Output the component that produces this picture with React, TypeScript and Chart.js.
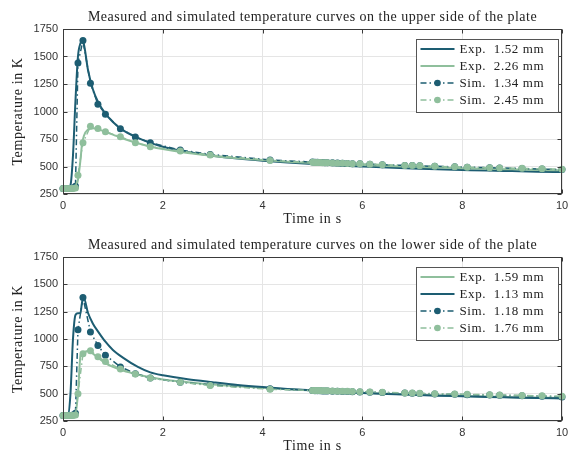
import React, { useEffect, useRef } from "react";
import { Chart, registerables } from "chart.js";

Chart.register(...registerables);

const DARK = "#1d5d72";
const LIGHT = "#8fbf9c";

// Tick values
const xTicks = [0, 2, 4, 6, 8, 10];
const yTicks = [250, 500, 750, 1000, 1250, 1500, 1750];

// Time base for measured curves (s)
const tExp = [0, 0.1, 0.15, 0.2, 0.25, 0.3, 0.35, 0.38, 0.42, 0.5, 0.6, 0.7, 0.85, 1.0, 1.2, 1.5, 1.75, 2.0, 2.5, 3.0, 3.5, 4.0, 4.5, 5.0, 5.5, 6.0, 6.5, 7.0, 7.5, 8.0, 8.5, 9.0, 9.5, 10.0];
// Time base for simulated curves (s)
const tSim = [0, 0.05, 0.1, 0.15, 0.2, 0.25, 0.3, 0.4, 0.55, 0.7, 0.85, 1.15, 1.45, 1.75, 2.35, 2.95, 4.15, 5.0, 5.05, 5.1, 5.15, 5.2, 5.25, 5.3, 5.4, 5.5, 5.6, 5.7, 5.8, 5.95, 6.15, 6.4, 6.85, 7.0, 7.15, 7.45, 7.85, 8.1, 8.55, 8.75, 9.2, 9.6, 10.0];

// Upper side
const upExp152 = [300, 305, 330, 600, 1100, 1500, 1620, 1640, 1610, 1380, 1200, 1090, 980, 905, 830, 760, 715, 680, 632, 598, 572, 552, 536, 522, 510, 500, 490, 482, 475, 469, 463, 458, 453, 449];
const upExp226 = [295, 295, 297, 300, 310, 380, 560, 700, 780, 835, 848, 840, 815, 790, 755, 712, 682, 658, 622, 596, 575, 558, 544, 532, 522, 513, 505, 498, 491, 485, 479, 474, 469, 465];
const upSim134 = [300, 300, 300, 300, 305, 320, 1440, 1645, 1256, 1066, 975, 843, 768, 716, 650, 610, 560, 540, 539, 538, 537, 536, 535, 534, 533, 531, 529, 528, 526, 524, 521, 517, 510, 508, 506, 502, 497, 494, 489, 487, 482, 477, 472];
const upSim245 = [300, 300, 300, 300, 300, 305, 420, 715, 865, 845, 815, 770, 716, 680, 640, 605, 555, 538, 537, 536, 536, 535, 534, 533, 532, 530, 529, 527, 526, 524, 521, 517, 510, 508, 506, 502, 497, 494, 489, 487, 483, 479, 475];

// Lower side
const loExp159 = [295, 295, 297, 300, 320, 500, 850, 870, 880, 890, 865, 830, 780, 745, 712, 675, 650, 630, 605, 583, 567, 553, 540, 528, 518, 508, 500, 492, 485, 479, 473, 468, 464, 460];
const loExp113 = [300, 305, 500, 1000, 1220, 1235, 1240, 1330, 1370, 1240, 1140, 1070, 975, 900, 830, 745, 695, 668, 632, 605, 580, 560, 543, 530, 518, 507, 497, 489, 482, 476, 470, 465, 460, 456];
const loSim118 = [300, 300, 300, 300, 305, 320, 1085, 1380, 1065, 940, 852, 745, 683, 643, 605, 580, 545, 528, 527, 527, 526, 525, 525, 524, 523, 521, 520, 519, 518, 516, 514, 511, 505, 503, 501, 498, 494, 491, 487, 485, 481, 477, 470];
const loSim176 = [300, 300, 300, 300, 300, 305, 500, 866, 893, 838, 795, 726, 680, 644, 605, 575, 540, 530, 529, 529, 528, 527, 527, 526, 525, 523, 522, 521, 520, 518, 516, 513, 507, 505, 503, 500, 496, 494, 490, 488, 484, 480, 476];

const titleTop = "Measured and simulated temperature curves on the upper side of the plate";
const titleBottom = "Measured and simulated temperature curves on the lower side of the plate";
const xLabel = "Time in s";
const yLabel = "Temperature in K";

type Series = { label: string; t: number[]; v: number[]; color: string; sim: boolean };

const topSeries: Series[] = [
  { label: "Exp.  1.52 mm", t: tExp, v: upExp152, color: DARK, sim: false },
  { label: "Exp.  2.26 mm", t: tExp, v: upExp226, color: LIGHT, sim: false },
  { label: "Sim.  1.34 mm", t: tSim, v: upSim134, color: DARK, sim: true },
  { label: "Sim.  2.45 mm", t: tSim, v: upSim245, color: LIGHT, sim: true },
];
const bottomSeries: Series[] = [
  { label: "Exp.  1.59 mm", t: tExp, v: loExp159, color: LIGHT, sim: false },
  { label: "Exp.  1.13 mm", t: tExp, v: loExp113, color: DARK, sim: false },
  { label: "Sim.  1.18 mm", t: tSim, v: loSim118, color: DARK, sim: true },
  { label: "Sim.  1.76 mm", t: tSim, v: loSim176, color: LIGHT, sim: true },
];

const SERIF = '"Liberation Serif", "Times New Roman", serif';
const SANS = '"Liberation Sans", Arial, sans-serif';
const DASH = [6, 3, 1.5, 3];

function setSpacing(ctx: any, v: string) {
  try { ctx.letterSpacing = v; } catch (e) { /* ignore */ }
}

function makeDecor(title: string, series: Series[]) {
  return {
    id: "decor",
    afterDraw(chart: any) {
      const { ctx, chartArea: a, scales } = chart;
      const L = Math.round(a.left) + 0.5;
      const R = Math.round(a.right) - 0.5;
      const T = Math.round(a.top) + 0.5;
      const B = Math.round(a.bottom) - 0.5;
      ctx.save();
      // box
      ctx.strokeStyle = "#3a3a3a";
      ctx.lineWidth = 1;
      ctx.setLineDash([]);
      ctx.strokeRect(L, T, R - L, B - T);
      // inner ticks
      const tl = 4;
      ctx.beginPath();
      xTicks.forEach((v) => {
        const x = Math.round(scales.x.getPixelForValue(v)) + 0.5;
        ctx.moveTo(x, B); ctx.lineTo(x, B - tl);
        ctx.moveTo(x, T); ctx.lineTo(x, T + tl);
      });
      yTicks.forEach((v) => {
        const y = Math.round(scales.y.getPixelForValue(v)) + 0.5;
        ctx.moveTo(L, y); ctx.lineTo(L + tl, y);
        ctx.moveTo(R, y); ctx.lineTo(R - tl, y);
      });
      ctx.stroke();
      // title & axis labels
      ctx.fillStyle = "#222";
      ctx.textAlign = "center";
      ctx.textBaseline = "middle";
      const cx = (a.left + a.right) / 2;
      ctx.font = `14px ${SERIF}`;
      setSpacing(ctx, "0.5px");
      ctx.fillText(title, cx, a.top - 12);
      setSpacing(ctx, "0.7px");
      ctx.fillText(xLabel, cx, a.bottom + 25);
      ctx.save();
      ctx.translate(18, (a.top + a.bottom) / 2);
      ctx.rotate(-Math.PI / 2);
      setSpacing(ctx, "0.6px");
      ctx.fillText(yLabel, 0, 0);
      ctx.restore();
      // legend
      const bx = Math.round(a.right) - 145.5;
      const by = Math.round(a.top) + 10.5;
      const bw = 142;
      const bh = 73;
      ctx.fillStyle = "#ffffff";
      ctx.fillRect(bx, by, bw, bh);
      ctx.strokeStyle = "#555";
      ctx.lineWidth = 1;
      ctx.strokeRect(bx, by, bw, bh);
      series.forEach((s, i) => {
        const y = by + 9.5 + i * 17;
        const x0 = bx + 4;
        const x1 = bx + 38;
        ctx.strokeStyle = s.color;
        ctx.lineWidth = s.sim ? 1.5 : 2;
        ctx.setLineDash(s.sim ? DASH : []);
        ctx.beginPath();
        ctx.moveTo(x0, y);
        ctx.lineTo(x1, y);
        ctx.stroke();
        ctx.setLineDash([]);
        if (s.sim) {
          ctx.fillStyle = s.color;
          ctx.beginPath();
          ctx.arc((x0 + x1) / 2, y, 3.3, 0, Math.PI * 2);
          ctx.fill();
        }
        ctx.fillStyle = "#222";
        ctx.textAlign = "left";
        ctx.font = `13px ${SERIF}`;
        setSpacing(ctx, "0.6px");
        ctx.fillText(s.label, bx + 43, y + 0.5);
      });
      setSpacing(ctx, "0px");
      ctx.restore();
    },
  };
}

function TempChart({ title, series, height }: { title: string; series: Series[]; height: number }) {
  const ref = useRef<HTMLCanvasElement | null>(null);
  useEffect(() => {
    if (!ref.current) return;
    const n = series.length;
    const chart = new Chart(ref.current, {
      type: "line",
      data: {
        datasets: series.map((s, i) => ({
          label: s.label,
          data: s.t.map((t, j) => ({ x: t, y: s.v[j] })),
          borderColor: s.color,
          backgroundColor: s.color,
          borderWidth: s.sim ? 1.5 : 2,
          borderDash: s.sim ? DASH : [],
          pointRadius: s.sim ? 3.5 : 0,
          pointStyle: "circle",
          pointBorderWidth: 0,
          pointBackgroundColor: s.color,
          tension: 0,
          cubicInterpolationMode: s.sim ? "default" : "monotone",
          fill: false,
          clip: false,
          order: n - 1 - i,
        })) as any,
      },
      options: {
        animation: false,
        responsive: false,
        layout: { padding: { left: 0, right: 8, top: 29, bottom: 0 } },
        plugins: { legend: { display: false }, tooltip: { enabled: false }, title: { display: false } },
        scales: {
          x: {
            type: "linear",
            min: 0,
            max: 10,
            afterBuildTicks: (sc: any) => { sc.ticks = xTicks.map((v) => ({ value: v })); },
            afterFit: (sc: any) => { sc.height = 34; sc.paddingLeft = 0; sc.paddingRight = 0; },
            ticks: { color: "#333", font: { family: SANS, size: 11 }, padding: 5, maxRotation: 0, callback: (v: any) => String(v) },
            grid: { color: "#e5e5e5", drawTicks: false },
            border: { display: false },
          },
          y: {
            type: "linear",
            min: 250,
            max: 1750,
            afterBuildTicks: (sc: any) => { sc.ticks = yTicks.map((v) => ({ value: v })); },
            afterFit: (sc: any) => { sc.width = 63; sc.paddingTop = 0; sc.paddingBottom = 0; },
            ticks: { color: "#333", font: { family: SANS, size: 11 }, padding: 5, callback: (v: any) => String(v) },
            grid: { color: "#e5e5e5", drawTicks: false },
            border: { display: false },
          },
        },
      },
      plugins: [makeDecor(title, series)],
    });
    return () => chart.destroy();
  }, [title, series, height]);
  return <canvas ref={ref} width={570} height={height} style={{ display: "block" }} />;
}

export default function App() {
  return (
    <div style={{ position: "absolute", left: 0, top: 0, width: 570, height: 455, background: "#fff" }}>
      <TempChart title={titleTop} series={topSeries} height={228} />
      <TempChart title={titleBottom} series={bottomSeries} height={227} />
    </div>
  );
}
